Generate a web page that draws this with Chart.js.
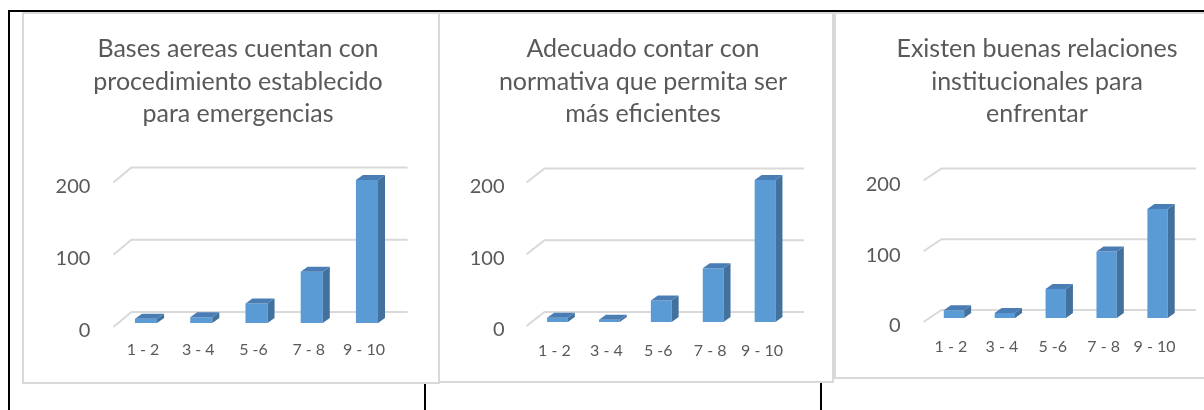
<!DOCTYPE html>
<html>
<head>
<meta charset="utf-8">
<script src="https://cdn.jsdelivr.net/npm/chart.js@4/dist/chart.umd.min.js"></script>
<style>
    body { margin: 0; background: #fff; width: 1204px; height: 410px; overflow: hidden; position: relative; }
    .linea { position: absolute; background: #000; }
    .panel { position: absolute; box-sizing: border-box; border: 2px solid #d9d9d9; background: #fff; }
    .panel canvas { position: absolute; left: 0; top: 0; }
</style>
</head>
<body>

<!-- marco de la tabla -->
<div class="linea" style="left:8px; top:10px; width:1196px; height:2px;"></div>
<div class="linea" style="left:8px; top:10px; width:2px; height:400px;"></div>
<div class="linea" style="left:424px; top:383px; width:2px; height:27px;"></div>
<div class="linea" style="left:820px; top:383px; width:2px; height:27px;"></div>

<div class="panel" style="left:22px; top:12px; width:418px; height:372px;">
    <canvas id="grafico-bases" width="414" height="368"></canvas>
</div>
<div class="panel" style="left:438px; top:12px; width:396px; height:371px;">
    <canvas id="grafico-normativa" width="392" height="367"></canvas>
</div>
<div class="panel" style="left:834px; top:12px; width:400px; height:367px;">
    <canvas id="grafico-relaciones" width="396" height="363"></canvas>
</div>

<script>
// Datos de las tres preguntas
var categorias = ['1 - 2', '3 - 4', '5 -6', '7 - 8', '9 - 10'];

var tituloBases = ['Bases aereas cuentan con', 'procedimiento establecido', 'para emergencias'];
var valoresBases = [6, 8, 27, 71, 198];

var tituloNormativa = ['Adecuado contar con', 'normativa que permita ser', 'más eficientes'];
var valoresNormativa = [6, 3, 30, 75, 198];

var tituloRelaciones = ['Existen buenas relaciones', 'institucionales para', 'enfrentar'];
var valoresRelaciones = [11, 7, 41, 94, 154];

var ejeMin = 0;
var ejeMax = 200;
var ejePaso = 100;

var gris = '#595959';
var azul = '#5b9bd5';
var azulLado = '#41719c';
var azulTapa = '#4a7db3';

// Plugin para simular las columnas 3D de Excel (pared de fondo y caras laterales)
var efecto3D = {
    id: 'efecto3D',
    beforeDatasetsDraw: function (chart, args, opts) {
        var ctx = chart.ctx;
        var area = chart.chartArea;
        var ejeY = chart.scales.y;
        ctx.save();
        ctx.strokeStyle = '#d9d9d9';
        ctx.lineWidth = 2;
        ejeY.ticks.forEach(function (tick) {
            var py = ejeY.getPixelForValue(tick.value);
            ctx.beginPath();
            ctx.moveTo(area.left - 5, py + 4);
            ctx.lineTo(area.left + 13, py + opts.fondo);
            ctx.lineTo(area.right + 13, py + opts.fondo);
            ctx.stroke();
        });
        ctx.restore();
    },
    afterDatasetsDraw: function (chart) {
        var ctx = chart.ctx;
        var barras = chart.getDatasetMeta(0).data;
        var dx = 7, dy = -5;
        ctx.save();
        barras.forEach(function (barra) {
            var izq = barra.x - barra.width / 2;
            var der = barra.x + barra.width / 2;

            // cara lateral
            ctx.fillStyle = azulLado;
            ctx.beginPath();
            ctx.moveTo(der, barra.y);
            ctx.lineTo(der + dx, barra.y + dy);
            ctx.lineTo(der + dx, barra.base + dy);
            ctx.lineTo(der, barra.base);
            ctx.closePath();
            ctx.fill();

            // tapa superior
            ctx.fillStyle = azulTapa;
            ctx.beginPath();
            ctx.moveTo(izq, barra.y);
            ctx.lineTo(izq + dx, barra.y + dy);
            ctx.lineTo(der + dx, barra.y + dy);
            ctx.lineTo(der, barra.y);
            ctx.closePath();
            ctx.fill();
        });
        ctx.restore();
    }
};

function crearGrafico(id, titulo, valores, cfg) {
    return new Chart(document.getElementById(id), {
        type: 'bar',
        data: {
            labels: categorias,
            datasets: [{
                data: valores,
                backgroundColor: azul,
                borderWidth: 0,
                barPercentage: 0.4,
                categoryPercentage: 1
            }]
        },
        options: {
            responsive: false,
            animation: false,
            events: [],
            layout: {
                padding: { left: cfg.izq, right: cfg.der, top: 0, bottom: 11 }
            },
            plugins: {
                legend: { display: false },
                tooltip: { enabled: false },
                title: {
                    display: true,
                    text: titulo,
                    color: gris,
                    font: { family: 'Lato', size: 25, weight: 'normal', lineHeight: 1.3 },
                    padding: { top: 19, bottom: cfg.tituloAbajo }
                },
                efecto3D: { fondo: cfg.fondo }
            },
            scales: {
                x: {
                    grid: { display: false },
                    border: { display: false },
                    ticks: {
                        color: gris,
                        font: { family: 'Lato', size: 16 },
                        padding: cfg.etiquetasX,
                        labelOffset: -3
                    },
                    afterFit: function (escala) { escala.height = 48; }
                },
                y: {
                    min: ejeMin,
                    max: ejeMax,
                    grid: { display: false },
                    border: { display: false },
                    ticks: {
                        stepSize: ejePaso,
                        color: gris,
                        font: { family: 'Lato', size: 20 },
                        padding: cfg.etiquetasY,
                        labelOffset: 8
                    },
                    afterFit: function (escala) { escala.width = cfg.anchoY; }
                },
                // eje derecho vacío, solo reserva espacio para centrar el título
                derecho: {
                    position: 'right',
                    grid: { display: false },
                    border: { display: false },
                    ticks: { display: false },
                    afterFit: function (escala) { escala.width = cfg.anchoDer; }
                }
            }
        },
        plugins: [efecto3D]
    });
}

crearGrafico('grafico-bases', tituloBases, valoresBases,
    { izq: 16, der: 2, anchoY: 78.4, anchoDer: 41.4, tituloAbajo: 48, fondo: -11, etiquetasX: 9, etiquetasY: 20 });
crearGrafico('grafico-normativa', tituloNormativa, valoresNormativa,
    { izq: 15, der: 1, anchoY: 76.5, anchoDer: 40, tituloAbajo: 48, fondo: -10, etiquetasX: 11, etiquetasY: 19 });
crearGrafico('grafico-relaciones', tituloRelaciones, valoresRelaciones,
    { izq: 14, der: 8, anchoY: 78.5, anchoDer: 41, tituloAbajo: 46, fondo: -8, etiquetasX: 11, etiquetasY: 20 });
</script>
</body>
</html>
